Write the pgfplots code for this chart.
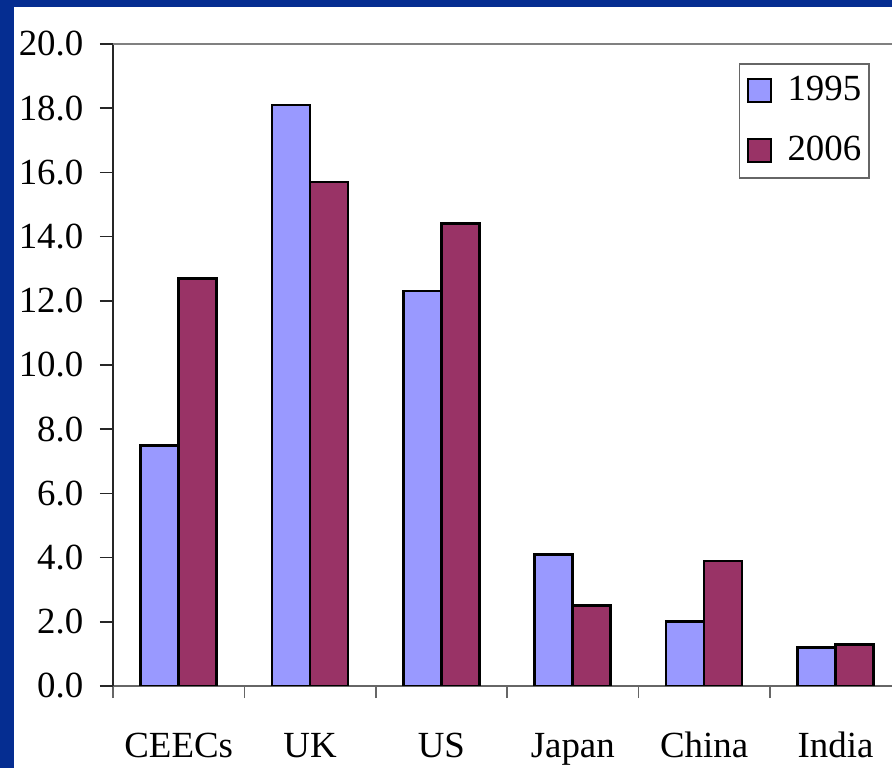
\documentclass[border=0pt]{standalone}
\usepackage{fontspec}
\setmainfont{Liberation Serif}
\usepackage{pgfplots}
\pgfplotsset{compat=1.18}
\definecolor{bgblue}{RGB}{5,45,145}
\definecolor{c95}{RGB}{153,153,255}
\definecolor{c06}{RGB}{153,51,102}
\begin{document}
\fontsize{18.5}{21}\selectfont
\begin{tikzpicture}
\useasboundingbox (0,0) rectangle (446bp,384bp);
\fill[bgblue] (0,0) rectangle (446bp,384bp);
\fill[white] (7bp,0) rectangle (446bp,380.5bp);
\begin{axis}[
  at={(56.5bp,41bp)}, anchor=south west,
  scale only axis, width=389.5bp, height=321bp,
  ymin=0, ymax=20, xmin=-0.5, xmax=5.43,
  ybar=0pt, bar width=19bp,
  axis x line*=bottom, axis y line*=left,
  x axis line style={-, draw=black!60, line width=0.8bp},
  y axis line style={-, draw=black!85, line width=0.8bp},
  ytick={0,2,...,20},
  tick align=outside,
  major tick length=6.5bp, minor tick length=6bp,
  ytick style={draw=black!85, line width=0.8bp},
  xtick={0,...,5},
  xticklabels={CEECs,UK,US,Japan,China,India},
  minor xtick={-0.5,0.5,...,5.5},
  major x tick style={draw=none},
  minor x tick style={draw=black!60, line width=0.8bp},
  tick label style={font=\fontsize{18.5}{21}\selectfont},
  yticklabel style={xshift=-2bp, /pgf/number format/.cd, fixed, fixed zerofill, precision=1, assume math mode=true},
  xticklabel style={anchor=base, yshift=-29bp},
  legend style={at={(0.9718,0.9704)}, anchor=north east, draw=black!60, line width=0.8bp,
    font=\fontsize{18.5}{21}\selectfont, row sep=11bp, inner xsep=2bp, inner ysep=4bp},
  legend cell align=left,
  legend image code/.code={\draw[#1, line width=1bp] (2bp,-5.75bp) rectangle (13.5bp,5.75bp); \path[draw=none, fill=none] (0bp,0bp) -- (20bp,0bp);},
  after end axis/.code={\draw[black!50, line width=1bp] (rel axis cs:0,1) -- (rel axis cs:1,1);},
]
\addplot[fill=c95, draw=black, line width=1.3bp] coordinates {(0,7.5) (1,18.1) (2,12.3) (3,4.1) (4,2.0) (5,1.2)};
\addplot[fill=c06, draw=black, line width=1.3bp] coordinates {(0,12.7) (1,15.7) (2,14.4) (3,2.5) (4,3.9) (5,1.3)};
\legend{1995,2006}
\end{axis}
\end{tikzpicture}
\end{document}
